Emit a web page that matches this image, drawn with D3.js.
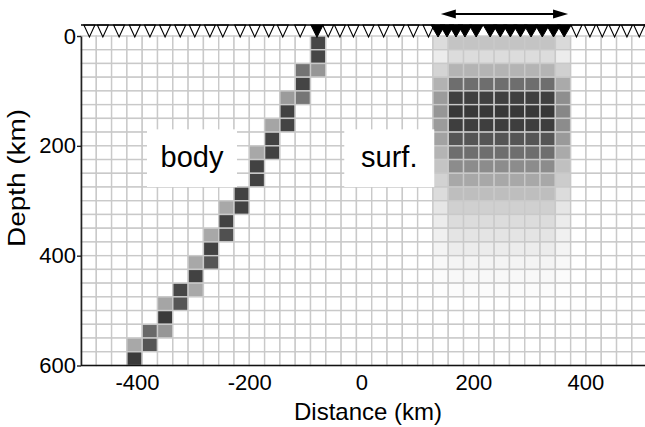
<!DOCTYPE html>
<html>
<head>
<meta charset="utf-8">
<script src="https://cdn.jsdelivr.net/npm/d3@7"></script>
<style>
  html, body { margin: 0; padding: 0; background: #fff; }
  svg { display: block; font-family: "Liberation Sans", Arial, Helvetica, sans-serif; }
</style>
</head>
<body>
<div id="chart"></div>
<script>
// ---------- data ----------
const xTicks = [-400, -200, 0, 200, 400];
const yTicks = [0, 200, 400, 600];
const gridDx = 27.3;   // km, model cell width
const gridDz = 25;     // km, model cell depth
const nCols = 37;
const nRows = 24;

// body-wave sensitivity cells: column index, row index, gray level
const bodyCol  = [15, 15, 14, 15, 14, 13, 14, 13, 12, 13, 12, 11, 12, 11, 11, 10, 9, 10, 9, 8, 9, 8, 7, 8, 7, 6, 7, 5, 6, 5, 4, 5, 3, 4, 3];
const bodyRow  = [0, 1, 2, 2, 3, 4, 4, 5, 6, 6, 7, 8, 8, 9, 10, 11, 12, 12, 13, 14, 14, 15, 16, 16, 17, 18, 18, 19, 19, 20, 21, 21, 22, 22, 23];
const bodyGray = [70, 70, 115, 150, 68, 155, 118, 66, 165, 68, 66, 168, 66, 66, 66, 66, 168, 66, 66, 168, 80, 66, 168, 85, 66, 70, 168, 165, 85, 58, 105, 150, 168, 85, 58];

// surface-wave sensitivity: columns 23..31, gray level per row
const surfCols = [23, 24, 25, 26, 27, 28, 29, 30, 31];
const surfInner = [196, 220, 180, 110, 64, 56, 62, 85, 110, 140, 168, 190, 208, 220, 228, 236, 244, 248, 251];
const surfLeft  = [220, 236, 212, 178, 155, 150, 155, 162, 180, 196, 210, 220, 230, 236, 240, 244, 248, 251, 253];
const surfRight = [218, 236, 208, 170, 142, 135, 140, 154, 170, 192, 204, 220, 230, 236, 240, 244, 248, 251, 253];

// stations (km)
const whiteStations = [-485, -461, -432, -404, -377, -350, -323, -297, -270, -247, -216, -190, -165, -140, -109, -59, -38, -14, 13, 40, 67, 93, 120, 384, 408, 430, 452, 474, 496, 515];
const bodyStation = [-79];
const surfStations = [137, 153, 169, 185, 205, 230, 248, 266, 284, 303, 323, 343, 362];
const arrowRange = [142, 369];

// ---------- drawing ----------
const W = 645, H = 427;
const svg = d3.select("#chart").append("svg").attr("width", W).attr("height", H);

const x = d3.scaleLinear().domain([-500, 500]).range([81, 641.5]);
const y = d3.scaleLinear().domain([0, 600]).range([36, 365.5]);

// cell fill lookup
const fill = new Map();
bodyCol.forEach((c, i) => fill.set(c + "_" + bodyRow[i], bodyGray[i]));
surfInner.forEach((g, r) => {
  surfCols.forEach((c, j) => {
    let v = g;
    if (j === 0) v = surfLeft[r];
    if (j === surfCols.length - 1) v = surfRight[r];
    fill.set(c + "_" + r, v);
  });
});

const cells = [];
for (let c = 0; c < nCols; c++) {
  for (let r = 0; r < nRows; r++) {
    const g = fill.has(c + "_" + r) ? fill.get(c + "_" + r) : 255;
    cells.push({ x0: -500 + c * gridDx, z0: r * gridDz, g });
  }
}

svg.append("g").selectAll("rect").data(cells).join("rect")
  .attr("x", d => x(d.x0))
  .attr("y", d => y(d.z0))
  .attr("width", d => x(d.x0 + gridDx) - x(d.x0))
  .attr("height", d => y(d.z0 + gridDz) - y(d.z0))
  .attr("fill", d => d3.rgb(d.g, d.g, d.g))
  .attr("stroke", "#c9c9c9")
  .attr("stroke-width", 1.4);

// label boxes
function labelBox(cx, txt) {
  const g = svg.append("g");
  g.append("rect").attr("x", cx - 45).attr("y", y(170)).attr("width", 90).attr("height", y(275) - y(170))
    .attr("fill", "#fff");
  g.append("text").attr("x", cx).attr("y", 167).attr("text-anchor", "middle")
    .attr("font-size", 29).attr("fill", "#000").text(txt);
}
labelBox(x(-302), "body");
labelBox(x(50), "surf.");

// axes
const yAxis = d3.axisLeft(y).tickValues(yTicks).tickSize(4).tickSizeOuter(0).tickPadding(1)
  .tickFormat(d => String(d));
const gy = svg.append("g").attr("transform", `translate(${x(-500)},0)`).call(yAxis);
gy.select(".domain").attr("stroke", "#222").attr("stroke-width", 1.6);
gy.selectAll(".tick line").attr("stroke", "#222").attr("stroke-width", 1.4);
gy.selectAll(".tick text").attr("font-size", 22).attr("fill", "#000")
  .attr("font-family", "Liberation Sans, Arial, sans-serif");

const xAxis = d3.axisBottom(x).tickValues(xTicks).tickSize(0).tickPadding(9)
  .tickFormat(d => String(d));
const gx = svg.append("g").attr("transform", `translate(0,${y(600)})`).call(xAxis);
gx.select(".domain").remove();
gx.selectAll(".tick text").attr("font-size", 22).attr("fill", "#000")
  .attr("font-family", "Liberation Sans, Arial, sans-serif");
svg.append("line").attr("x1", x(-500)).attr("x2", W).attr("y1", y(600)).attr("y2", y(600))
  .attr("stroke", "#111").attr("stroke-width", 1.6);

svg.append("text").attr("x", 368).attr("y", 420).attr("text-anchor", "middle")
  .attr("font-size", 24).text("Distance (km)");
svg.append("text").attr("transform", `translate(25,178) rotate(-90)`).attr("text-anchor", "middle")
  .attr("font-size", 23).attr("textLength", 138).attr("lengthAdjust", "spacingAndGlyphs")
  .text("Depth (km)");

// stations
const topY = 25, triH = 12;
const tri = w => d => {
  const cx = x(d);
  return `M${cx - w / 2},${topY}L${cx + w / 2},${topY}L${cx},${topY + triH}Z`;
};
svg.append("g").selectAll("path").data(whiteStations).join("path")
  .attr("d", tri(11)).attr("fill", "#fff").attr("stroke", "#000").attr("stroke-width", 1.1);
svg.append("g").selectAll("path").data(bodyStation).join("path")
  .attr("d", tri(12)).attr("fill", "#000").attr("stroke", "#000").attr("stroke-width", 1.1);
svg.append("g").selectAll("path").data(surfStations).join("path")
  .attr("d", tri(14)).attr("fill", "#000").attr("stroke", "#000").attr("stroke-width", 1);
svg.append("line").attr("x1", x(-500)).attr("x2", W).attr("y1", topY).attr("y2", topY)
  .attr("stroke", "#000").attr("stroke-width", 1.5);

// double arrow
const ay = 14, ah = 15, aw = 4.5;
const ax1 = x(arrowRange[0]), ax2 = x(arrowRange[1]);
svg.append("line").attr("x1", ax1 + 5).attr("x2", ax2 - 5).attr("y1", ay).attr("y2", ay)
  .attr("stroke", "#000").attr("stroke-width", 2);
svg.append("path").attr("d", `M${ax1},${ay}L${ax1 + ah},${ay - aw}L${ax1 + ah},${ay + aw}Z`).attr("fill", "#000");
svg.append("path").attr("d", `M${ax2},${ay}L${ax2 - ah},${ay - aw}L${ax2 - ah},${ay + aw}Z`).attr("fill", "#000");
</script>
</body>
</html>
